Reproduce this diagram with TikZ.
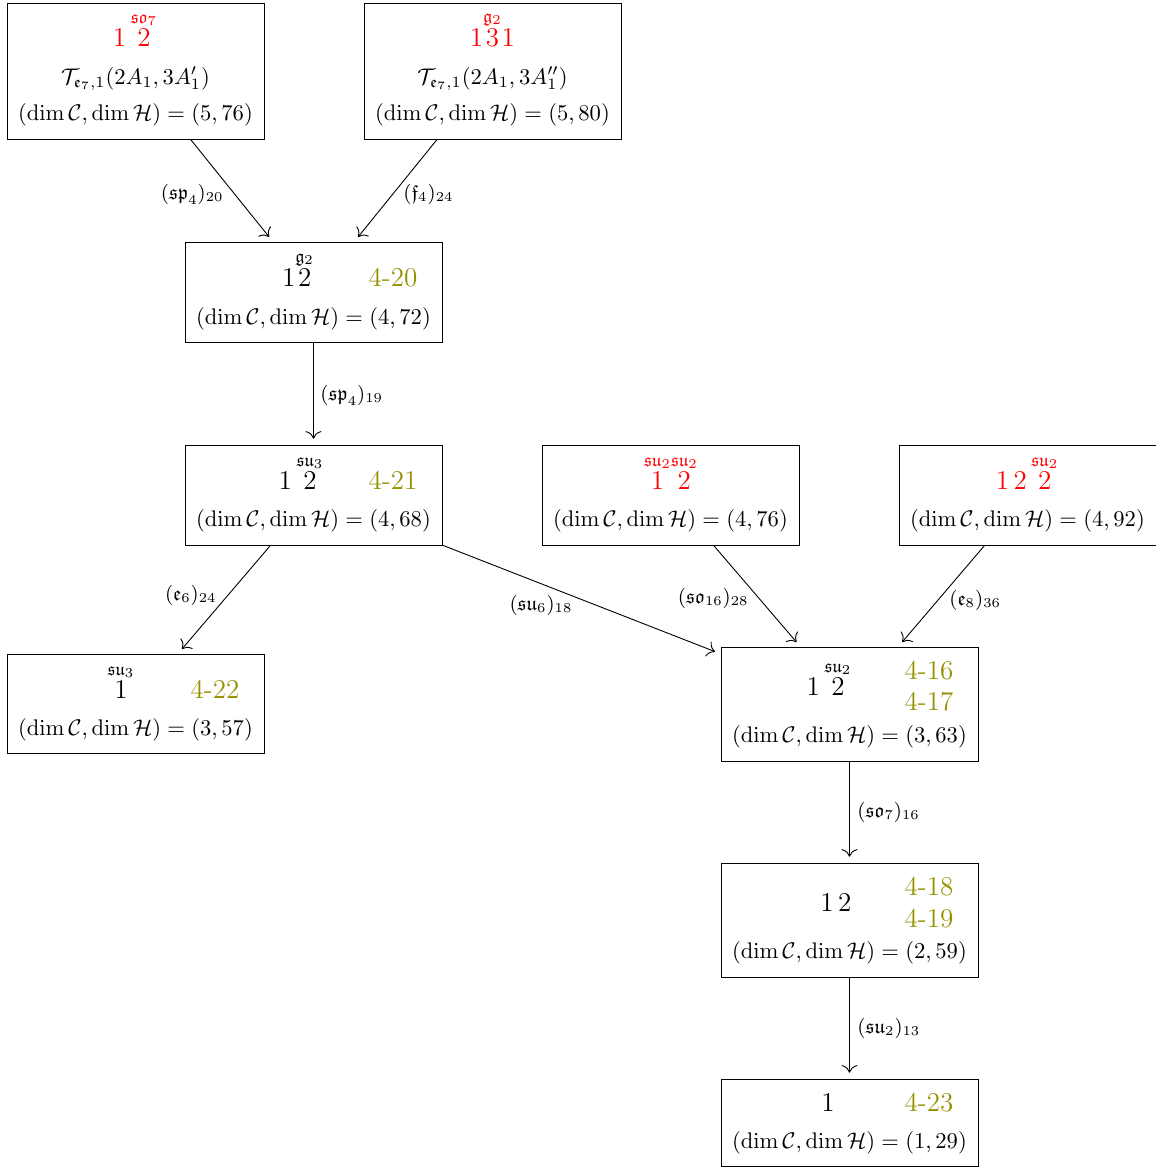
\documentclass[tikz,border=0pt]{standalone}
\usepackage{amsmath,amssymb}
\usetikzlibrary{arrows.meta}
\definecolor{tagcol}{RGB}{150,145,0}
\begin{document}
\begin{tikzpicture}[x=0.4425pt,y=-0.4425pt,
  box/.style={draw,line width=0.4pt,inner sep=0pt,minimum width=113.7pt},
  txt/.style={inner sep=0pt,anchor=base},
  quiv/.style={inner sep=0pt,anchor=base,font=\large},
  tag/.style={inner sep=0pt,anchor=base,font=\large,text=tagcol},
  lab/.style={inner sep=0pt,font=\small},
  conn/.style={-{To[scale=1.35]},shorten >=2.6pt}]
\useasboundingbox (0,0) rectangle (1156,1169);
\newcommand{\dimline}[1]{$(\dim\mathcal{C},\dim\mathcal{H})=(#1)$}
% boxes
\node[box,minimum height=60.2pt] (A) at (135.5,71) {};
\node[box,minimum height=60.2pt] (B) at (492.5,71) {};
\node[box,minimum height=44.25pt] (C) at (313.5,292) {};
\node[box,minimum height=44.25pt] (D) at (313.5,495) {};
\node[box,minimum height=44.25pt] (E) at (670.5,495) {};
\node[box,minimum height=44.25pt] (F) at (1027.5,495) {};
\node[box,minimum height=43.8pt] (G) at (135.5,703.5) {};
\node[box,minimum height=50.4pt] (H) at (849.5,704) {};
\node[box,minimum height=50.4pt] (I) at (849.5,920) {};
\node[box,minimum height=38.5pt] (J) at (849.5,1122.5) {};
% box A
\node[quiv,text=red] (Aq) at (135,46) {$1\,\overset{\mathfrak{so}_7}{2}$};
\node[txt] (At) at (135.5,84) {$\mathcal{T}_{\mathfrak{e}_7,1}(2A_1,3A_1')$};
\node[txt] (Ad) at (135.5,120) {\dimline{5,76}};
% box B
\node[quiv,text=red] (Bq) at (492.5,46) {$1\overset{\mathfrak{g}_2}{3}1$};
\node[txt] (Bt) at (492.5,84) {$\mathcal{T}_{\mathfrak{e}_7,1}(2A_1,3A_1'')$};
\node[txt] (Bd) at (492.5,120) {\dimline{5,80}};
% box C
\node[quiv] (Cq) at (298,286) {$1\overset{\mathfrak{g}_2}{2}$};
\node[tag] (Ct) at (393,286) {4-20};
\node[txt] (Cd) at (313.5,324) {\dimline{4,72}};
% box D
\node[quiv] (Dq) at (301,489) {$1\,\overset{\mathfrak{su}_3}{2}$};
\node[tag] (Dt) at (393,489) {4-21};
\node[txt] (Dd) at (313.5,526.5) {\dimline{4,68}};
% box E
\node[quiv,text=red] (Eq) at (671,489) {$\overset{\mathfrak{su}_2}{1}\overset{\mathfrak{su}_2}{2}$};
\node[txt] (Ed) at (670.5,526.5) {\dimline{4,76}};
% box F
\node[quiv,text=red] (Fq) at (1027,489) {$1\,2\,\overset{\mathfrak{su}_2}{2}$};
\node[txt] (Fd) at (1027.5,526.5) {\dimline{4,92}};
% box G
\node[quiv] (Gq) at (121,698) {$\overset{\mathfrak{su}_3}{1}$};
\node[tag] (Gt) at (215,698) {4-22};
\node[txt] (Gd) at (135.5,735) {\dimline{3,57}};
% box H
\node[quiv] (Hq) at (829,695) {$1\,\overset{\mathfrak{su}_2}{2}$};
\node[tag] (Ht1) at (929,679) {4-16};
\node[tag] (Ht2) at (929,710) {4-17};
\node[txt] (Hd) at (849.5,742) {\dimline{3,63}};
% box I
\node[quiv] (Iq) at (836,911) {$1\,2$};
\node[tag] (It1) at (929,895) {4-18};
\node[tag] (It2) at (929,927) {4-19};
\node[txt] (Id) at (849.5,958) {\dimline{2,59}};
% box J
\node[quiv] (Jq) at (828,1111) {$1$};
\node[tag] (Jt) at (929,1111) {4-23};
\node[txt] (Jd) at (849.5,1148) {\dimline{1,29}};
% connectors
\draw[conn] (A) -- (C);
\draw[conn] (B) -- (C);
\draw[conn] (C) -- (D);
\draw[conn] (D) -- (G);
\draw[conn] (D) -- (H);
\draw[conn] (E) -- (H);
\draw[conn] (F) -- (H);
\draw[conn] (H) -- (I);
\draw[conn] (I) -- (J);
% labels
\node[lab,anchor=east] (lAC) at (224,194) {$(\mathfrak{sp}_4)_{20}$};
\node[lab,anchor=west] (lBC) at (403,194) {$(\mathfrak{f}_4)_{24}$};
\node[lab,anchor=west] (lCD) at (320,395) {$(\mathfrak{sp}_4)_{19}$};
\node[lab,anchor=east] (lDG) at (217,595) {$(\mathfrak{e}_6)_{24}$};
\node[lab] (lDH) at (541,605) {$(\mathfrak{su}_6)_{18}$};
\node[lab,anchor=east] (lEH) at (749,598) {$(\mathfrak{so}_{16})_{28}$};
\node[lab,anchor=west] (lFH) at (949,600) {$(\mathfrak{e}_8)_{36}$};
\node[lab,anchor=west] (lHI) at (857,812) {$(\mathfrak{so}_7)_{16}$};
\node[lab,anchor=west] (lIJ) at (857,1028) {$(\mathfrak{su}_2)_{13}$};
\end{tikzpicture}
\end{document}
